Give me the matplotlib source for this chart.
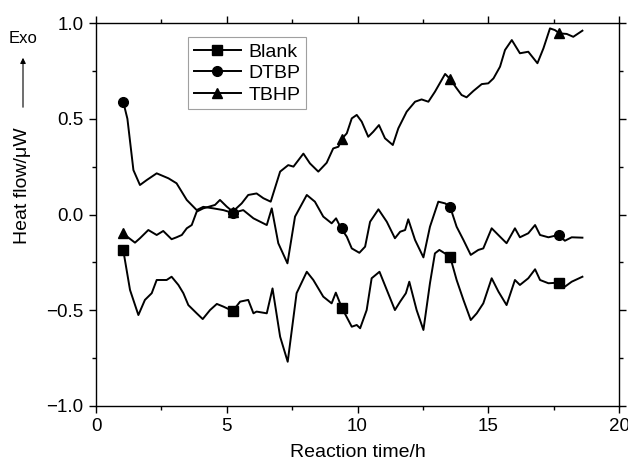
import matplotlib
matplotlib.use("Agg")
import matplotlib.pyplot as plt
from matplotlib.lines import Line2D
from matplotlib.ticker import MultipleLocator

plt.rcParams["font.family"] = ["Liberation Sans", "DejaVu Sans"]

# traced curves (reaction time in h, heat flow in uW)
blank_x = [1.04, 1.3, 1.62, 1.87, 2.13, 2.32, 2.7, 2.89, 3.15, 3.34, 3.53, 3.85, 4.08, 4.36,
           4.62, 4.87, 5.23, 5.51, 5.82, 6.02, 6.14, 6.53, 6.75, 7.04, 7.33, 7.67, 8.06, 8.31,
           8.69, 9.01, 9.17, 9.4, 9.78, 9.97, 10.1, 10.35, 10.54, 10.84, 11.12, 11.43, 11.63,
           11.85, 11.98, 12.26, 12.52, 12.77, 12.96, 13.13, 13.54, 13.79, 14.05, 14.33, 14.56,
           14.81, 15.13, 15.39, 15.7, 16.02, 16.21, 16.53, 16.79, 16.98, 17.3, 17.68, 17.93,
           18.19, 18.6]
blank_y = [-0.185, -0.394, -0.525, -0.446, -0.411, -0.342, -0.342, -0.325, -0.368, -0.411,
           -0.473, -0.516, -0.546, -0.499, -0.467, -0.481, -0.504, -0.455, -0.446, -0.516,
           -0.507, -0.516, -0.386, -0.638, -0.769, -0.411, -0.299, -0.342, -0.429, -0.464,
           -0.408, -0.487, -0.586, -0.577, -0.594, -0.499, -0.333, -0.299, -0.394, -0.499,
           -0.455, -0.411, -0.351, -0.499, -0.603, -0.359, -0.203, -0.185, -0.22, -0.342,
           -0.446, -0.551, -0.516, -0.464, -0.333, -0.403, -0.473, -0.342, -0.368, -0.333,
           -0.286, -0.342, -0.359, -0.356, -0.377, -0.351, -0.325]

dtbp_x = [1.04, 1.2, 1.43, 1.68, 1.94, 2.32, 2.77, 3.08, 3.47, 3.85, 4.1, 4.49, 4.87, 5.23,
          5.63, 6.02, 6.53, 6.72, 6.97, 7.32, 7.61, 8.06, 8.37, 8.69, 9.01, 9.18, 9.37, 9.59,
          9.78, 10.07, 10.29, 10.48, 10.8, 11.12, 11.43, 11.63, 11.82, 11.94, 12.2, 12.52,
          12.77, 13.09, 13.35, 13.54, 13.79, 14.05, 14.33, 14.62, 14.81, 15.13, 15.45, 15.7,
          16.02, 16.21, 16.53, 16.79, 16.98, 17.3, 17.68, 17.93, 18.19, 18.6]
dtbp_y = [0.589, 0.5, 0.232, 0.154, 0.18, 0.215, 0.189, 0.163, 0.076, 0.023, 0.04, 0.032,
          0.023, 0.008, 0.023, -0.02, -0.055, 0.032, -0.15, -0.255, -0.011, 0.102, 0.067,
          -0.011, -0.046, -0.02, -0.072, -0.116, -0.177, -0.2, -0.168, -0.038, 0.027, -0.038,
          -0.124, -0.09, -0.081, -0.025, -0.133, -0.224, -0.064, 0.067, 0.058, 0.04, -0.064,
          -0.133, -0.211, -0.185, -0.177, -0.072, -0.116, -0.15, -0.072, -0.119, -0.098,
          -0.055, -0.107, -0.119, -0.107, -0.137, -0.119, -0.121]

tbhp_x = [1.02, 1.49, 1.68, 2.0, 2.32, 2.57, 2.89, 3.08, 3.28, 3.47, 3.66, 3.85, 4.1, 4.55,
          4.74, 5.0, 5.23, 5.57, 5.82, 6.14, 6.4, 6.68, 7.04, 7.35, 7.55, 7.93, 8.18, 8.5,
          8.82, 9.07, 9.27, 9.4, 9.59, 9.78, 9.97, 10.16, 10.41, 10.6, 10.82, 11.05, 11.35,
          11.56, 11.88, 12.2, 12.45, 12.71, 12.96, 13.35, 13.54, 13.79, 13.98, 14.17, 14.43,
          14.75, 15.0, 15.2, 15.45, 15.64, 15.9, 16.21, 16.53, 16.88, 17.11, 17.36, 17.55,
          17.72, 18.0, 18.25, 18.6]
tbhp_y = [-0.098, -0.147, -0.124, -0.081, -0.107, -0.086, -0.129, -0.119, -0.107, -0.072,
          -0.055, 0.015, 0.032, 0.05, 0.076, 0.041, 0.015, 0.058, 0.102, 0.11, 0.085, 0.067,
          0.224, 0.258, 0.25, 0.318, 0.267, 0.224, 0.27, 0.345, 0.354, 0.395, 0.424, 0.502,
          0.52, 0.485, 0.406, 0.432, 0.467, 0.398, 0.363, 0.45, 0.537, 0.589, 0.601, 0.589,
          0.641, 0.734, 0.708, 0.659, 0.624, 0.612, 0.645, 0.681, 0.685, 0.711, 0.772, 0.859,
          0.911, 0.842, 0.85, 0.79, 0.868, 0.972, 0.963, 0.946, 0.943, 0.928, 0.96]

# symbols drawn only at a few times
mark_x = [1.02, 5.23, 9.4, 13.54, 17.7]
blank_mark = [-0.185, -0.504, -0.487, -0.22, -0.356]
dtbp_mark = [0.589, 0.008, -0.072, 0.04, -0.107]
tbhp_mark = [-0.098, 0.015, 0.395, 0.708, 0.946]

fig = plt.figure(figsize=(6.28, 4.65), dpi=100)
ax = fig.add_axes([0.1529, 0.1269, 0.8328, 0.8236])

lw = 1.4
ax.plot(blank_x, blank_y, color="black", lw=lw)
ax.plot(dtbp_x, dtbp_y, color="black", lw=lw)
ax.plot(tbhp_x, tbhp_y, color="black", lw=lw)
ax.plot(mark_x, blank_mark, "s", color="black", ms=6.5, ls="none")
ax.plot(mark_x, dtbp_mark, "o", color="black", ms=7, ls="none")
ax.plot(mark_x, tbhp_mark, "^", color="black", ms=7, ls="none")

ax.set_xlim(0, 20)
ax.set_ylim(-1.0, 1.0)
ax.xaxis.set_minor_locator(MultipleLocator(2.5))
ax.yaxis.set_minor_locator(MultipleLocator(0.25))
ax.set_xticks([0, 5, 10, 15, 20])
ax.set_xticklabels(["0", "5", "10", "15", "20"])
ax.set_yticks([-1.0, -0.5, 0.0, 0.5, 1.0])
ax.set_yticklabels(["\u22121.0", "\u22120.5", "0.0", "0.5", "1.0"])
ax.tick_params(which="both", direction="out", top=True, right=True, width=1.0)
ax.tick_params(which="major", length=5, labelsize=13.5, pad=4)
ax.tick_params(which="minor", length=3)
for s in ax.spines.values():
    s.set_linewidth(1.0)

ax.set_xlabel("Reaction time/h", fontsize=14, labelpad=6)
fig.text(23 / 628, 1 - 186 / 465, "Heat flow/\u03bcW", rotation=90, fontsize=14,
         ha="center", va="center")
fig.text(23 / 628, 1 - 38 / 465, "Exo", fontsize=12, ha="center", va="center")
fig.patches.append(matplotlib.patches.FancyArrowPatch(
    (23 / 628, 1 - 110 / 465), (23 / 628, 1 - 55 / 465), transform=fig.transFigure,
    arrowstyle="-|>", mutation_scale=8, color="black", lw=0.8))

handles = [
    Line2D([], [], color="black", lw=lw, marker="s", ms=6.5, label="Blank"),
    Line2D([], [], color="black", lw=lw, marker="o", ms=7, label="DTBP"),
    Line2D([], [], color="black", lw=lw, marker="^", ms=7, label="TBHP"),
]
leg = ax.legend(handles=handles, loc="upper left", bbox_to_anchor=(0.176, 0.963),
                fontsize=14, frameon=True, fancybox=False, handlelength=2.4,
                borderpad=0.3, labelspacing=0.2, handletextpad=0.4, borderaxespad=0)
leg.get_frame().set_edgecolor("#888888")
leg.get_frame().set_linewidth(0.8)

fig.savefig("out.png", dpi=100)
